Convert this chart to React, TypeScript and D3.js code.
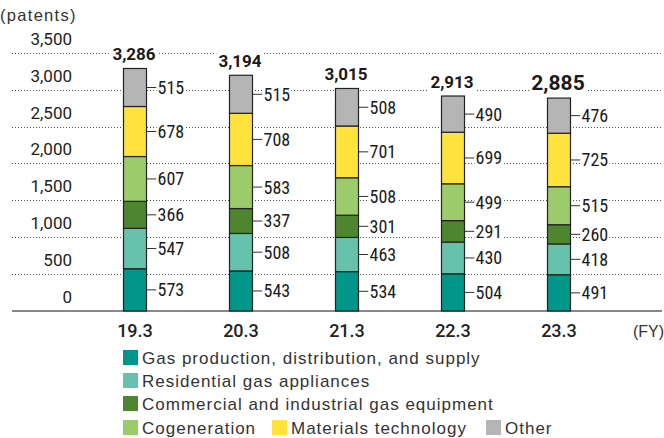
import React, { useEffect, useRef } from "react";
import * as d3 from "d3";

const categories = ["19.3", "20.3", "21.3", "22.3", "23.3"];
const seriesNames = [
  "Gas production, distribution, and supply",
  "Residential gas appliances",
  "Commercial and industrial gas equipment",
  "Cogeneration",
  "Materials technology",
  "Other",
];
const gasProduction = [573, 543, 534, 504, 491];
const residential = [547, 508, 463, 430, 418];
const commercial = [366, 337, 301, 291, 260];
const cogeneration = [607, 583, 508, 499, 515];
const materials = [678, 708, 701, 699, 725];
const other = [515, 515, 508, 490, 476];
const totals = [3286, 3194, 3015, 2913, 2885];
const yTicks = [0, 500, 1000, 1500, 2000, 2500, 3000, 3500];
const colors = ["#00968a", "#66c2ac", "#4e862f", "#9ccb6b", "#ffe33c", "#b4b5b4"];

const W = 664;
const H = 438;
const NUM_FONT = "Roboto, 'Liberation Sans', sans-serif";
const NARROW_FONT = "'Liberation Sans Narrow', 'Roboto Condensed', 'DejaVu Sans Condensed', sans-serif";
const TEXT_FONT = "'Liberation Sans', Arial, Helvetica, sans-serif";

export default function App() {
  const ref = useRef<SVGSVGElement>(null);
  useEffect(() => {
    const svg = d3.select(ref.current);
    svg.selectAll("*").remove();

    const seriesValues = [gasProduction, residential, commercial, cogeneration, materials, other];
    const rows = categories.map((c, i) => {
      const r: any = { cat: c };
      seriesNames.forEach((s, j) => (r[s] = seriesValues[j][i]));
      return r;
    });
    const stacked = d3.stack().keys(seriesNames)(rows as any);

    const x = d3.scalePoint<string>().domain(categories).range([135, 559]);
    const y = d3.scaleLinear().domain([0, 3500]).range([311, 52.7]);
    const bw = 23;

    // grid
    const grid = svg.append("g");
    yTicks.filter((t) => t > 0).forEach((t) => {
      grid
        .append("line")
        .attr("x1", 12)
        .attr("x2", 662)
        .attr("y1", Math.round(y(t)) + 0.5)
        .attr("y2", Math.round(y(t)) + 0.5)
        .attr("stroke", "#555")
        .attr("stroke-width", 1)
        .attr("stroke-dasharray", "1,2");
    });
    // y labels
    yTicks.forEach((t) => {
      svg
        .append("text")
        .attr("x", 72)
        .attr("y", y(t) - 8)
        .attr("text-anchor", "end")
        .attr("font-family", NUM_FONT)
        .attr("font-size", 17)
        .attr("fill", "#222")
        .text(d3.format(",")(t));
    });
    svg
      .append("text")
      .attr("x", 0)
      .attr("y", 21)
      .attr("font-family", TEXT_FONT)
      .attr("font-size", 16.5)
      .attr("letter-spacing", 1.3)
      .attr("fill", "#333")
      .text("(patents)");

    // baseline
    svg
      .append("line")
      .attr("x1", 12)
      .attr("x2", 662)
      .attr("y1", y(0))
      .attr("y2", y(0))
      .attr("stroke", "#888")
      .attr("stroke-width", 2);

    const labelWithBg = (
      parent: any,
      xx: number,
      yy: number,
      txt: string,
      opts: { anchor: string; font: string; size: number; weight: number; dy: string; pad: number }
    ) => {
      const g = parent.append("g");
      const r = g.append("rect").attr("fill", "#fff");
      const t = g
        .append("text")
        .attr("x", xx)
        .attr("y", yy)
        .attr("dy", opts.dy)
        .attr("text-anchor", opts.anchor)
        .attr("font-family", opts.font)
        .attr("font-size", opts.size)
        .attr("font-weight", opts.weight)
        .attr("fill", "#1a1a1a")
        .text(txt);
      const bb = (t.node() as SVGTextElement).getBBox();
      r.attr("x", bb.x - opts.pad)
        .attr("y", bb.y)
        .attr("width", bb.width + opts.pad * 2)
        .attr("height", bb.height);
    };

    // value labels
    const labelG = svg.append("g");
    stacked.forEach((layer) => {
      layer.forEach((d: any, i: number) => {
        const cx = x(categories[i])!;
        const yy = (y(d[0]) + y(d[1])) / 2;
        const val = d[1] - d[0];
        labelG
          .append("line")
          .attr("x1", cx + bw / 2)
          .attr("x2", cx + bw / 2 + 10)
          .attr("y1", yy)
          .attr("y2", yy)
          .attr("stroke", "#333")
          .attr("stroke-width", 1);
        labelWithBg(labelG, cx + bw / 2 + 11, yy, d3.format(",")(val), {
          anchor: "start",
          font: NARROW_FONT,
          size: 18,
          weight: 400,
          dy: "0.36em",
          pad: 1,
        });
      });
    });

    // totals
    totals.forEach((v, i) => {
      const cx = x(categories[i])!;
      const last = i === totals.length - 1;
      labelWithBg(svg, cx - 1, y(v) - 8, d3.format(",")(v), {
        anchor: "middle",
        font: NUM_FONT,
        size: last ? 21 : 17,
        weight: 700,
        dy: "0",
        pad: 2,
      });
    });

    // bars
    const barsG = svg.append("g");
    stacked.forEach((layer, j) => {
      barsG
        .selectAll(null)
        .data(layer)
        .enter()
        .append("rect")
        .attr("x", (_d: any, i: number) => x(categories[i])! - bw / 2)
        .attr("y", (d: any) => y(d[1]))
        .attr("width", bw)
        .attr("height", (d: any) => y(d[0]) - y(d[1]))
        .attr("fill", colors[j])
        .attr("stroke", "#222")
        .attr("stroke-width", 1.2);
    });

    // category labels
    categories.forEach((c) => {
      svg
        .append("text")
        .attr("x", x(c)!)
        .attr("y", 337)
        .attr("text-anchor", "middle")
        .attr("font-family", NUM_FONT)
        .attr("font-weight", 500)
        .attr("font-size", 18)
        .attr("fill", "#222")
        .text(c);
    });
    svg
      .append("text")
      .attr("x", 633)
      .attr("y", 337)
      .attr("font-family", TEXT_FONT)
      .attr("font-size", 16)
      .attr("fill", "#333")
      .text("(FY)");

    // legend
    const legendItems = [
      { name: seriesNames[0], color: colors[0], x: 123, row: 0 },
      { name: seriesNames[1], color: colors[1], x: 123, row: 1 },
      { name: seriesNames[2], color: colors[2], x: 123, row: 2 },
      { name: seriesNames[3], color: colors[3], x: 123, row: 3 },
      { name: seriesNames[4], color: colors[4], x: 272, row: 3 },
      { name: seriesNames[5], color: colors[5], x: 486, row: 3 },
    ];
    const rowY = [357.5, 380.5, 403.5, 427.5];
    legendItems.forEach((it) => {
      const cy = rowY[it.row];
      svg
        .append("rect")
        .attr("x", it.x)
        .attr("y", cy - 7.5)
        .attr("width", 15)
        .attr("height", 15)
        .attr("fill", it.color);
      svg
        .append("text")
        .attr("x", it.x + 19)
        .attr("y", cy)
        .attr("dy", "0.36em")
        .attr("font-family", TEXT_FONT)
        .attr("font-size", 17)
        .attr("letter-spacing", 1.0)
        .attr("fill", "#333")
        .text(it.name);
    });
  }, []);

  return (
    <svg
      ref={ref}
      width={W}
      height={H}
      style={{ position: "absolute", left: 0, top: 0, background: "#fff" }}
    />
  );
}
